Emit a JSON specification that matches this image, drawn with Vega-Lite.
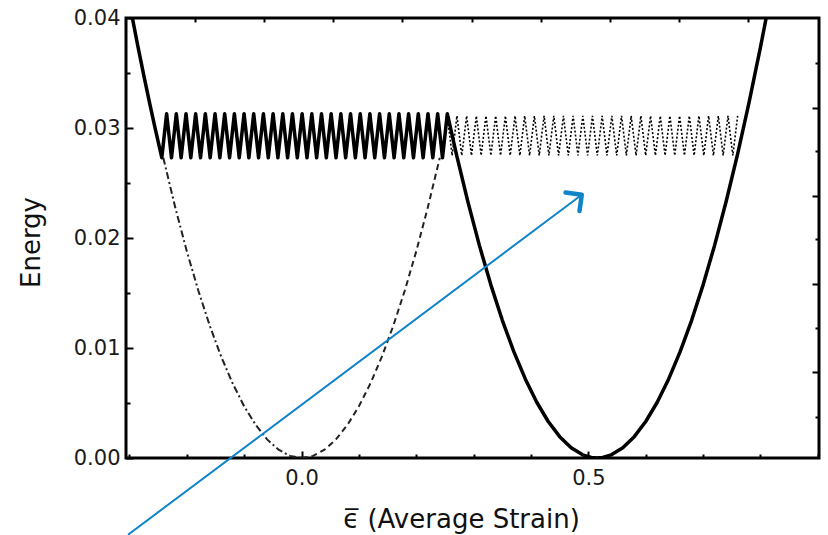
{
  "$schema": "https://vega.github.io/schema/vega-lite/v6.json",
  "width": 693,
  "height": 440,
  "autosize": {"type": "none"},
  "padding": {"left": 126, "top": 18, "right": 9, "bottom": 77},
  "background": "white",
  "config": {
    "view": {"stroke": "black", "strokeWidth": 3},
    "font": "DejaVu Sans"
  },
  "datasets": {
    "solid": [
      {"x": -0.296, "y": 0.0403}, {"x": -0.285, "y": 0.03736}, {"x": -0.275, "y": 0.03479}, {"x": -0.265, "y": 0.0323}, {"x": -0.255, "y": 0.02991},
      {"x": -0.2436, "y": 0.0273}, {"x": -0.2352, "y": 0.0313}, {"x": -0.2267, "y": 0.0273}, {"x": -0.2183, "y": 0.0313}, {"x": -0.2099, "y": 0.0273}, {"x": -0.2014, "y": 0.0313},
      {"x": -0.193, "y": 0.0273}, {"x": -0.1846, "y": 0.0313}, {"x": -0.1761, "y": 0.0273}, {"x": -0.1677, "y": 0.0313}, {"x": -0.1593, "y": 0.0273}, {"x": -0.1508, "y": 0.0313},
      {"x": -0.1424, "y": 0.0273}, {"x": -0.134, "y": 0.0313}, {"x": -0.1255, "y": 0.0273}, {"x": -0.1171, "y": 0.0313}, {"x": -0.1086, "y": 0.0273}, {"x": -0.1002, "y": 0.0313},
      {"x": -0.0918, "y": 0.0273}, {"x": -0.0834, "y": 0.0313}, {"x": -0.0749, "y": 0.0273}, {"x": -0.0665, "y": 0.0313}, {"x": -0.058, "y": 0.0273}, {"x": -0.0496, "y": 0.0313},
      {"x": -0.0412, "y": 0.0273}, {"x": -0.0327, "y": 0.0313}, {"x": -0.0243, "y": 0.0273}, {"x": -0.0159, "y": 0.0313}, {"x": -0.0074, "y": 0.0273}, {"x": 0.001, "y": 0.0313},
      {"x": 0.0095, "y": 0.0273}, {"x": 0.0179, "y": 0.0313}, {"x": 0.0263, "y": 0.0273}, {"x": 0.0348, "y": 0.0313}, {"x": 0.0432, "y": 0.0273}, {"x": 0.0516, "y": 0.0313},
      {"x": 0.0601, "y": 0.0273}, {"x": 0.0685, "y": 0.0313}, {"x": 0.0769, "y": 0.0273}, {"x": 0.0854, "y": 0.0313}, {"x": 0.0938, "y": 0.0273}, {"x": 0.1023, "y": 0.0313},
      {"x": 0.1107, "y": 0.0273}, {"x": 0.1191, "y": 0.0313}, {"x": 0.1276, "y": 0.0273}, {"x": 0.136, "y": 0.0313}, {"x": 0.1445, "y": 0.0273}, {"x": 0.1529, "y": 0.0313},
      {"x": 0.1613, "y": 0.0273}, {"x": 0.1698, "y": 0.0313}, {"x": 0.1782, "y": 0.0273}, {"x": 0.1866, "y": 0.0313}, {"x": 0.1951, "y": 0.0273}, {"x": 0.2035, "y": 0.0313},
      {"x": 0.2119, "y": 0.0273}, {"x": 0.2204, "y": 0.0313}, {"x": 0.2288, "y": 0.0273}, {"x": 0.2373, "y": 0.0313}, {"x": 0.2457, "y": 0.0273}, {"x": 0.2541, "y": 0.0313},
      {"x": 0.27, "y": 0.02761}, {"x": 0.29, "y": 0.02329}, {"x": 0.31, "y": 0.01933}, {"x": 0.33, "y": 0.01574}, {"x": 0.35, "y": 0.01252}, {"x": 0.37, "y": 0.00967},
      {"x": 0.39, "y": 0.00719}, {"x": 0.41, "y": 0.00507}, {"x": 0.43, "y": 0.00332}, {"x": 0.45, "y": 0.00194}, {"x": 0.47, "y": 0.00093}, {"x": 0.49, "y": 0.00029},
      {"x": 0.505, "y": 0.00005}, {"x": 0.515, "y": 0.0}, {"x": 0.525, "y": 0.00005}, {"x": 0.54, "y": 0.00029}, {"x": 0.56, "y": 0.00093}, {"x": 0.58, "y": 0.00194},
      {"x": 0.6, "y": 0.00332}, {"x": 0.62, "y": 0.00507}, {"x": 0.64, "y": 0.00719}, {"x": 0.66, "y": 0.00967}, {"x": 0.68, "y": 0.01252}, {"x": 0.7, "y": 0.01574},
      {"x": 0.72, "y": 0.01933}, {"x": 0.74, "y": 0.02329}, {"x": 0.76, "y": 0.02761}, {"x": 0.78, "y": 0.0323}, {"x": 0.8, "y": 0.03736}, {"x": 0.811, "y": 0.0403}
    ],
    "dashdot": [
      {"x": -0.241, "y": 0.0273}, {"x": -0.22, "y": 0.02275}, {"x": -0.2, "y": 0.0188}, {"x": -0.18, "y": 0.01523}, {"x": -0.16, "y": 0.01203}, {"x": -0.14, "y": 0.00921},
      {"x": -0.12, "y": 0.00677}, {"x": -0.1, "y": 0.0047}, {"x": -0.08, "y": 0.00301}, {"x": -0.06, "y": 0.00169}, {"x": -0.04, "y": 0.00075}, {"x": -0.02, "y": 0.00019}, {"x": 0.0, "y": 0.0}
    ],
    "dashed": [
      {"x": 0.0, "y": 0.0}, {"x": 0.02, "y": 0.00019}, {"x": 0.04, "y": 0.00075}, {"x": 0.06, "y": 0.00169}, {"x": 0.08, "y": 0.00301}, {"x": 0.1, "y": 0.0047},
      {"x": 0.12, "y": 0.00677}, {"x": 0.14, "y": 0.00921}, {"x": 0.16, "y": 0.01203}, {"x": 0.18, "y": 0.01523}, {"x": 0.2, "y": 0.0188}, {"x": 0.22, "y": 0.02275}, {"x": 0.241, "y": 0.0273}
    ],
    "dotted": [
      {"x": 0.2541, "y": 0.0311}, {"x": 0.2625, "y": 0.0275}, {"x": 0.2709, "y": 0.0311}, {"x": 0.2793, "y": 0.0275}, {"x": 0.2878, "y": 0.0311}, {"x": 0.2962, "y": 0.0275},
      {"x": 0.3047, "y": 0.0311}, {"x": 0.3131, "y": 0.0275}, {"x": 0.3215, "y": 0.0311}, {"x": 0.33, "y": 0.0275}, {"x": 0.3384, "y": 0.0311}, {"x": 0.3469, "y": 0.0275},
      {"x": 0.3553, "y": 0.0311}, {"x": 0.3637, "y": 0.0275}, {"x": 0.3722, "y": 0.0311}, {"x": 0.3806, "y": 0.0275}, {"x": 0.389, "y": 0.0311}, {"x": 0.3975, "y": 0.0275},
      {"x": 0.4059, "y": 0.0311}, {"x": 0.4143, "y": 0.0275}, {"x": 0.4228, "y": 0.0311}, {"x": 0.4312, "y": 0.0275}, {"x": 0.4397, "y": 0.0311}, {"x": 0.4481, "y": 0.0275},
      {"x": 0.4565, "y": 0.0311}, {"x": 0.465, "y": 0.0275}, {"x": 0.4734, "y": 0.0311}, {"x": 0.4818, "y": 0.0275}, {"x": 0.4903, "y": 0.0311}, {"x": 0.4987, "y": 0.0275},
      {"x": 0.5071, "y": 0.0311}, {"x": 0.5156, "y": 0.0275}, {"x": 0.524, "y": 0.0311}, {"x": 0.5324, "y": 0.0275}, {"x": 0.5409, "y": 0.0311}, {"x": 0.5493, "y": 0.0275},
      {"x": 0.5578, "y": 0.0311}, {"x": 0.5662, "y": 0.0275}, {"x": 0.5746, "y": 0.0311}, {"x": 0.5831, "y": 0.0275}, {"x": 0.5915, "y": 0.0311}, {"x": 0.5999, "y": 0.0275},
      {"x": 0.6084, "y": 0.0311}, {"x": 0.6168, "y": 0.0275}, {"x": 0.6253, "y": 0.0311}, {"x": 0.6337, "y": 0.0275}, {"x": 0.6421, "y": 0.0311}, {"x": 0.6505, "y": 0.0275},
      {"x": 0.659, "y": 0.0311}, {"x": 0.6674, "y": 0.0275}, {"x": 0.6759, "y": 0.0311}, {"x": 0.6843, "y": 0.0275}, {"x": 0.6927, "y": 0.0311}, {"x": 0.7012, "y": 0.0275},
      {"x": 0.7096, "y": 0.0311}, {"x": 0.718, "y": 0.0275}, {"x": 0.7265, "y": 0.0311}, {"x": 0.7349, "y": 0.0275}, {"x": 0.7434, "y": 0.0311}, {"x": 0.7518, "y": 0.0275},
      {"x": 0.7602, "y": 0.0311}
    ],
    "arrow": [
      {"x": -0.3025, "y": -0.00698}, {"x": 0.4885, "y": 0.02393}
    ],
    "arrowhead": [
      {"x": 0.4885, "y": 0.02393}
    ]
  },
  "layer": [
    {
      "encoding": {
        "x": {
          "field": "x", "type": "quantitative",
          "scale": {"domain": [-0.306, 0.902], "nice": false, "zero": false},
          "axis": {
            "orient": "bottom",
            "values": [-0.3, -0.2, -0.1, 0, 0.1, 0.2, 0.3, 0.4, 0.5, 0.6, 0.7, 0.8, 0.9],
            "labelExpr": "datum.value == 0 ? '0.0' : (datum.value == 0.5 ? '0.5' : '')",
            "labelFont": "DejaVu Sans", "labelFontSize": 21, "labelColor": "#1a1a1a",
            "labelPadding": 16, "labelFlush": false, "labelOverlap": false, "labelBound": false,
            "domain": false, "grid": false,
            "tickColor": "black", "tickWidth": 2,
            "tickSize": {"condition": {"test": "datum.value == 0 || datum.value == 0.5", "value": -7}, "value": -4},
            "title": "\u03f5\u0305 (Average Strain)",
            "titleFont": "DejaVu Sans", "titleFontSize": 26, "titleFontWeight": "normal", "titleColor": "#111111",
            "titleX": 335, "titleY": 69, "titleBaseline": "alphabetic", "titleAlign": "center"
          }
        },
        "y": {
          "field": "y", "type": "quantitative",
          "scale": {"domain": [0, 0.04], "nice": false, "zero": false},
          "axis": {
            "orient": "left",
            "values": [0, 0.005, 0.01, 0.015, 0.02, 0.025, 0.03, 0.035, 0.04],
            "labelExpr": "(datum.value == 0 || datum.value == 0.01 || datum.value == 0.02 || datum.value == 0.03 || datum.value == 0.04) ? format(datum.value, '.2f') : ''",
            "labelFont": "DejaVu Sans", "labelFontSize": 21, "labelColor": "#1a1a1a",
            "labelPadding": 13, "labelFlush": false, "labelOverlap": false, "labelBound": false,
            "domain": false, "grid": false,
            "tickColor": "black", "tickWidth": 2,
            "tickSize": {"condition": {"test": "datum.value == 0 || datum.value == 0.01 || datum.value == 0.02 || datum.value == 0.03 || datum.value == 0.04", "value": -7}, "value": -4},
            "title": "Energy",
            "titleFont": "DejaVu Sans", "titleFontSize": 26, "titleFontWeight": "normal", "titleColor": "#111111",
            "titleAngle": -90, "titleX": -87, "titleY": 224, "titleBaseline": "alphabetic", "titleAlign": "center"
          }
        }
      },
      "layer": [
        {"data": {"name": "dashdot"}, "mark": {"type": "line", "color": "#222222", "strokeWidth": 2, "strokeDash": [7, 3, 2, 3], "clip": true}},
        {"data": {"name": "dashed"}, "mark": {"type": "line", "color": "#222222", "strokeWidth": 2, "strokeDash": [6, 4], "clip": true}},
        {"data": {"name": "dotted"}, "mark": {"type": "line", "color": "black", "strokeWidth": 1.6, "strokeDash": [2, 2], "clip": true}},
        {"data": {"name": "solid"}, "mark": {"type": "line", "color": "black", "strokeWidth": 3.5, "strokeJoin": "round", "clip": true}},
        {"data": {"name": "arrow"}, "mark": {"type": "line", "color": "#0f84c8", "strokeWidth": 2, "clip": false}},
        {"data": {"name": "arrowhead"}, "mark": {"type": "point", "shape": "M-0.7,0.7L0,0L0.7,0.7", "size": 1100, "filled": false, "stroke": "#0f84c8", "strokeWidth": 4.5, "strokeCap": "round", "strokeJoin": "round", "angle": 53, "opacity": 1, "clip": false}}
      ]
    },
    {
      "data": {"name": "arrowhead"},
      "mark": {"type": "point", "opacity": 0},
      "encoding": {
        "x": {
          "field": "x", "type": "quantitative",
          "axis": {
            "orient": "top",
            "values": [-0.1857, -0.0652, 0.0553, 0.1758, 0.2963, 0.4168, 0.5373, 0.6578, 0.7783],
            "labels": false, "domain": false, "grid": false, "title": null,
            "tickColor": "black", "tickWidth": 2, "tickSize": -4
          }
        },
        "y": {
          "field": "y", "type": "quantitative",
          "axis": {
            "orient": "right",
            "values": [0.0359, 0.0318, 0.0279, 0.0238, 0.0199, 0.0158, 0.0118, 0.0078, 0.0037],
            "labels": false, "domain": false, "grid": false, "title": null,
            "tickColor": "black", "tickWidth": 2,
            "tickSize": {"condition": {"test": "datum.value == 0.0318 || datum.value == 0.0238 || datum.value == 0.0158 || datum.value == 0.0078", "value": -7}, "value": -4}
          }
        }
      }
    }
  ],
  "resolve": {"axis": {"x": "independent", "y": "independent"}}
}
